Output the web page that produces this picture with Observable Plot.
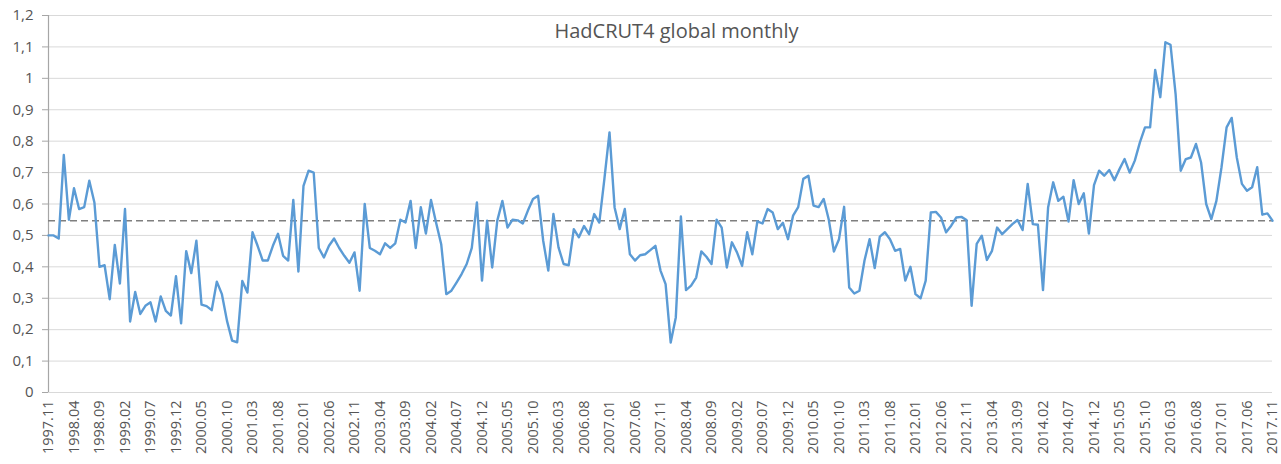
<!DOCTYPE html>
<html>
<head>
<meta charset="utf-8">
<script src="https://cdn.jsdelivr.net/npm/d3@7"></script>
<script src="https://cdn.jsdelivr.net/npm/@observablehq/plot@0.6"></script>
<style>
  html, body { margin: 0; padding: 0; background: #fff; }
  #chart svg { display: block; }
</style>
</head>
<body>
<div id="chart"></div>
<script>
const title = "HadCRUT4 global monthly";

// Monthly anomalies 1997.11 … 2017.11
const anomalies = [
  0.50, 0.50, 0.49, 0.756, 0.55, 0.65, 0.584, 0.59, 0.674, 0.605,
  0.40, 0.405, 0.297, 0.47, 0.347, 0.584, 0.226, 0.32, 0.25, 0.276,
  0.287, 0.226, 0.306, 0.26, 0.245, 0.37, 0.22, 0.45, 0.38, 0.483,
  0.28, 0.275, 0.262, 0.353, 0.313, 0.228, 0.165, 0.16, 0.355, 0.318,
  0.51, 0.467, 0.42, 0.42, 0.467, 0.505, 0.435, 0.42, 0.613, 0.385,
  0.658, 0.706, 0.70, 0.46, 0.43, 0.467, 0.49, 0.46, 0.435, 0.413,
  0.446, 0.324, 0.60, 0.46, 0.451, 0.44, 0.475, 0.46, 0.475, 0.55,
  0.541, 0.61, 0.46, 0.59, 0.506, 0.613, 0.54, 0.472, 0.313, 0.324,
  0.35, 0.377, 0.409, 0.46, 0.605, 0.356, 0.547, 0.398, 0.547, 0.61,
  0.525, 0.55, 0.548, 0.538, 0.579, 0.616, 0.626, 0.483, 0.388, 0.568,
  0.462, 0.409, 0.405, 0.52, 0.494, 0.53, 0.504, 0.568, 0.541, 0.68,
  0.828, 0.589, 0.52, 0.584, 0.44, 0.42, 0.437, 0.44, 0.453, 0.467,
  0.388, 0.345, 0.159, 0.239, 0.56, 0.326, 0.34, 0.366, 0.449, 0.432,
  0.409, 0.55, 0.525, 0.398, 0.478, 0.446, 0.403, 0.51, 0.44, 0.545,
  0.538, 0.584, 0.573, 0.52, 0.54, 0.488, 0.563, 0.59, 0.68, 0.69,
  0.595, 0.59, 0.616, 0.55, 0.449, 0.488, 0.591, 0.334, 0.315, 0.324,
  0.42, 0.488, 0.396, 0.496, 0.51, 0.488, 0.451, 0.457, 0.356, 0.40,
  0.313, 0.30, 0.356, 0.573, 0.575, 0.557, 0.51, 0.531, 0.557, 0.559,
  0.549, 0.276, 0.473, 0.499, 0.422, 0.451, 0.525, 0.504, 0.52, 0.536,
  0.549, 0.517, 0.664, 0.536, 0.534, 0.326, 0.589, 0.669, 0.61, 0.623,
  0.544, 0.676, 0.60, 0.634, 0.506, 0.66, 0.706, 0.69, 0.708, 0.676,
  0.711, 0.743, 0.70, 0.738, 0.796, 0.844, 0.844, 1.027, 0.94, 1.115,
  1.107, 0.95, 0.706, 0.743, 0.748, 0.791, 0.732, 0.60, 0.552, 0.61,
  0.717, 0.844, 0.874, 0.748, 0.664, 0.642, 0.653, 0.717, 0.566, 0.57,
  0.547
];

const referenceLevel = 0.547;

// x tick labels, every 5th month
const tickLabels = [
  "1997.11","1998.04","1998.09","1999.02","1999.07","1999.12","2000.05","2000.10",
  "2001.03","2001.08","2002.01","2002.06","2002.11","2003.04","2003.09","2004.02",
  "2004.07","2004.12","2005.05","2005.10","2006.03","2006.08","2007.01","2007.06",
  "2007.11","2008.04","2008.09","2009.02","2009.07","2009.12","2010.05","2010.10",
  "2011.03","2011.08","2012.01","2012.06","2012.11","2013.04","2013.09","2014.02",
  "2014.07","2014.12","2015.05","2015.10","2016.03","2016.08","2017.01","2017.06",
  "2017.11"
];
const tickStep = 5;

const yTicks = [0, 0.1, 0.2, 0.3, 0.4, 0.5, 0.6, 0.7, 0.8, 0.9, 1, 1.1, 1.2];

const data = anomalies.map((v, i) => ({i, v}));
const xTicks = tickLabels.map((_, k) => k * tickStep);
const locale = d3.formatLocale({decimal: ",", thousands: " ", grouping: [3], currency: ["", ""]});
const fmtY = locale.format(".1~f");

const textColor = "#555555";

const chart = Plot.plot({
  width: 1281,
  height: 464,
  marginLeft: 48,
  marginRight: 9,
  marginTop: 15,
  marginBottom: 72,
  style: {fontFamily: "'Open Sans', sans-serif", background: "#fff", overflow: "visible"},
  x: {type: "linear", domain: [0, anomalies.length - 1]},
  y: {domain: [0, 1.2]},
  marks: [
    Plot.gridY(yTicks, {stroke: "#d9d9d9", strokeOpacity: 1, strokeWidth: 1}),
    Plot.ruleX([0], {stroke: "#a6a6a6", strokeWidth: 1.2}),
    Plot.axisY(yTicks, {
      tickSize: 6, tickPadding: 9, stroke: "#a6a6a6",
      tickFormat: fmtY, fontSize: 15, fill: textColor, label: null
    }),
    Plot.axisX(xTicks, {
      tickRotate: -90, tickSize: 0, tickPadding: 8,
      tickFormat: i => tickLabels[i / tickStep], fontSize: 14.5, fill: textColor, label: null
    }),
    Plot.ruleY([referenceLevel], {stroke: "#7f7f7f", strokeWidth: 1.5, strokeDasharray: "7,4"}),
    Plot.line(data, {x: "i", y: "v", stroke: "#5b9bd5", strokeWidth: 2.4, strokeLinejoin: "round"}),
    Plot.text([title], {
      frameAnchor: "top", dy: 16, dx: 16, fontSize: 20, fill: textColor, lineAnchor: "middle"
    })
  ]
});

document.getElementById("chart").appendChild(chart);
</script>
</body>
</html>
